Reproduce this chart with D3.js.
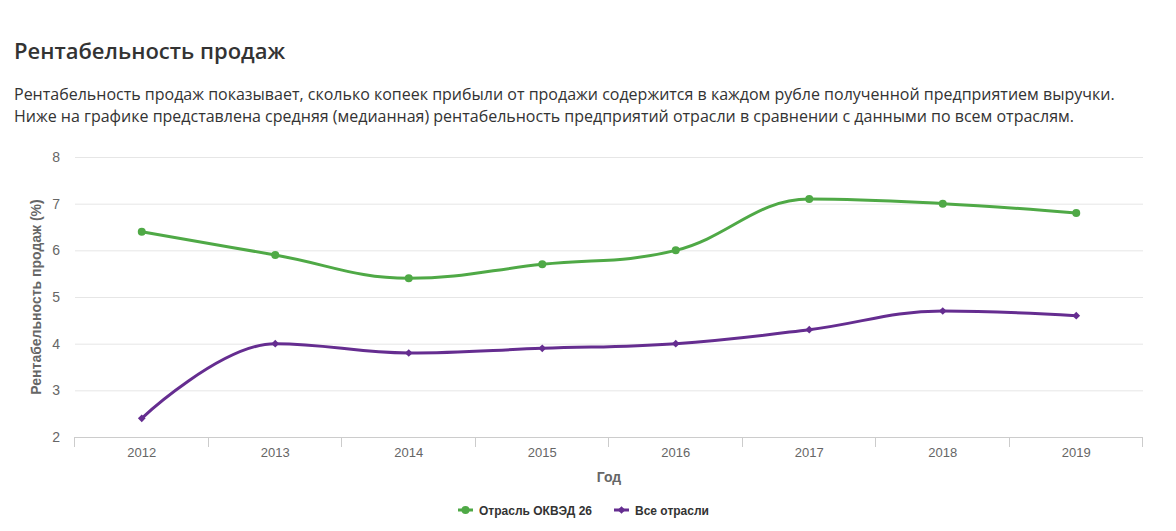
<!DOCTYPE html>
<html lang="ru">
<head>
    <meta charset="UTF-8">
    <title>Рентабельность продаж</title>
    <script src="https://cdnjs.cloudflare.com/ajax/libs/d3/7.8.5/d3.min.js"></script>
    <style>
        body {
            margin: 0;
            background: #fff;
        }
        svg {
            display: block;
        }
    </style>
</head>
<body>
    <svg id="chart" width="1176" height="531"></svg>

    <script>
        // Chart data
        const years = ["2012", "2013", "2014", "2015", "2016", "2017", "2018", "2019"];
        const industryValues = [6.4, 5.9, 5.4, 5.7, 6.0, 7.1, 7.0, 6.8];
        const allValues = [2.4, 4.0, 3.8, 3.9, 4.0, 4.3, 4.7, 4.6];
        const yTicks = [2, 3, 4, 5, 6, 7, 8];
        const seriesNames = ["Отрасль ОКВЭД 26", "Все отрасли"];

        const GREEN = "#4fa946";
        const PURPLE = "#652d90";
        const chartFont = "'Liberation Sans', Arial, sans-serif";
        const textFont = "'Open Sans', sans-serif";

        const svg = d3.select("#chart");

        // Header text
        svg.append("text")
            .attr("x", 14).attr("y", 59)
            .attr("font-family", textFont)
            .attr("font-size", "22px")
            .attr("font-weight", 600)
            .attr("fill", "#333")
            .text("Рентабельность продаж");

        const para = [
            "Рентабельность продаж показывает, сколько копеек прибыли от продажи содержится в каждом рубле полученной предприятием выручки.",
            "Ниже на графике представлена средняя (медианная) рентабельность предприятий отрасли в сравнении с данными по всем отраслям."
        ];
        svg.selectAll("text.para")
            .data(para)
            .enter()
            .append("text")
            .attr("class", "para")
            .attr("x", 14)
            .attr("y", (d, i) => 100 + i * 22)
            .attr("font-family", textFont)
            .attr("font-size", "16px")
            .attr("fill", "#333")
            .text(d => d);

        // Plot area
        const plotLeft = 75, plotRight = 1143, plotTop = 157, plotBottom = 437;

        const x = d3.scaleBand().domain(years).range([plotLeft, plotRight]);
        const y = d3.scaleLinear().domain([2, 8]).range([plotBottom, plotTop]);
        const cx = d => x(d) + x.bandwidth() / 2;

        // Grid lines
        svg.append("g")
            .selectAll("line")
            .data(yTicks)
            .enter()
            .append("line")
            .attr("x1", plotLeft).attr("x2", plotRight)
            .attr("y1", d => y(d) + 0.5).attr("y2", d => y(d) + 0.5)
            .attr("stroke", "#e6e6e6");

        // Y tick labels
        svg.append("g")
            .selectAll("text")
            .data(yTicks)
            .enter()
            .append("text")
            .attr("x", 60)
            .attr("y", d => y(d) + 5)
            .attr("text-anchor", "end")
            .attr("font-family", chartFont)
            .attr("font-size", "14px")
            .attr("fill", "#666")
            .text(d => d);

        // Y axis title
        svg.append("text")
            .attr("transform", "translate(41,297) rotate(-90)")
            .attr("text-anchor", "middle")
            .attr("font-family", chartFont)
            .attr("font-size", "14px")
            .attr("font-weight", "bold")
            .attr("fill", "#666")
            .text("Рентабельность продаж (%)");

        // X axis line and ticks
        svg.append("line")
            .attr("x1", plotLeft).attr("x2", plotRight)
            .attr("y1", plotBottom + 0.5).attr("y2", plotBottom + 0.5)
            .attr("stroke", "#cccccc");

        const tickPos = years.map(d => x(d)).concat([plotRight]);
        svg.append("g")
            .selectAll("line")
            .data(tickPos)
            .enter()
            .append("line")
            .attr("x1", d => Math.round(d) - 0.5).attr("x2", d => Math.round(d) - 0.5)
            .attr("y1", plotBottom).attr("y2", plotBottom + 10)
            .attr("stroke", "#cccccc");

        svg.append("g")
            .selectAll("text")
            .data(years)
            .enter()
            .append("text")
            .attr("x", d => cx(d))
            .attr("y", 457)
            .attr("text-anchor", "middle")
            .attr("font-family", chartFont)
            .attr("font-size", "13px")
            .attr("fill", "#666")
            .text(d => d);

        svg.append("text")
            .attr("x", (plotLeft + plotRight) / 2)
            .attr("y", 482)
            .attr("text-anchor", "middle")
            .attr("font-family", chartFont)
            .attr("font-size", "14px")
            .attr("font-weight", "bold")
            .attr("fill", "#666")
            .text("Год");

        // Highcharts-like spline path
        function splinePath(pts) {
            const smoothing = 1.5, denom = smoothing + 1;
            const p = d3.path();
            let prevRight = null;
            pts.forEach((pt, i) => {
                if (i === 0) { p.moveTo(pt[0], pt[1]); return; }
                const last = pts[i - 1], next = pts[i + 1];
                let lcx = pt[0], lcy = pt[1], rc = null;
                if (next) {
                    lcx = (smoothing * pt[0] + last[0]) / denom;
                    lcy = (smoothing * pt[1] + last[1]) / denom;
                    const rcx = (smoothing * pt[0] + next[0]) / denom;
                    let rcy = (smoothing * pt[1] + next[1]) / denom;
                    let corr = 0;
                    if (rcx !== lcx) {
                        corr = ((rcy - lcy) * (rcx - pt[0])) / (rcx - lcx) + pt[1] - rcy;
                    }
                    lcy += corr;
                    rcy += corr;
                    if (lcy > last[1] && lcy > pt[1]) {
                        lcy = Math.max(last[1], pt[1]);
                        rcy = 2 * pt[1] - lcy;
                    } else if (lcy < last[1] && lcy < pt[1]) {
                        lcy = Math.min(last[1], pt[1]);
                        rcy = 2 * pt[1] - lcy;
                    }
                    if (rcy > next[1] && rcy > pt[1]) {
                        rcy = Math.max(next[1], pt[1]);
                        lcy = 2 * pt[1] - rcy;
                    } else if (rcy < next[1] && rcy < pt[1]) {
                        rcy = Math.min(next[1], pt[1]);
                        lcy = 2 * pt[1] - rcy;
                    }
                    rc = [rcx, rcy];
                }
                const a = prevRight || last;
                p.bezierCurveTo(a[0], a[1], lcx, lcy, pt[0], pt[1]);
                prevRight = rc;
            });
            return p.toString();
        }

        // diamond = square turned 45 degrees
        const series = [
            { name: seriesNames[0], values: industryValues, color: GREEN, symbol: d3.symbolCircle, size: 50, rot: 0 },
            { name: seriesNames[1], values: allValues, color: PURPLE, symbol: d3.symbolSquare, size: 30, rot: 45 }
        ];

        series.slice().reverse().forEach(s => {
            const pts = years.map((yr, i) => [cx(yr), y(s.values[i])]);
            svg.append("path")
                .attr("d", splinePath(pts))
                .attr("fill", "none")
                .attr("stroke", s.color)
                .attr("stroke-width", 3)
                .attr("stroke-linecap", "round");

            svg.append("g")
                .selectAll("path")
                .data(pts)
                .enter()
                .append("path")
                .attr("transform", d => `translate(${d[0]},${d[1]}) rotate(${s.rot})`)
                .attr("d", d3.symbol().type(s.symbol).size(s.size))
                .attr("fill", s.color);
        });

        // Legend
        const legendX = [458, 614];
        series.forEach((s, i) => {
            const g = svg.append("g").attr("transform", `translate(${legendX[i]},510)`);
            g.append("line")
                .attr("x1", 0).attr("x2", 15)
                .attr("stroke", s.color)
                .attr("stroke-width", 3);
            g.append("path")
                .attr("transform", `translate(7.5,0) rotate(${s.rot})`)
                .attr("d", d3.symbol().type(s.symbol).size(s.size))
                .attr("fill", s.color);
            g.append("text")
                .attr("x", 21)
                .attr("y", 4.5)
                .attr("font-family", chartFont)
                .attr("font-size", "12px")
                .attr("font-weight", "bold")
                .attr("fill", "#333")
                .text(s.name);
        });
    </script>
</body>
</html>
